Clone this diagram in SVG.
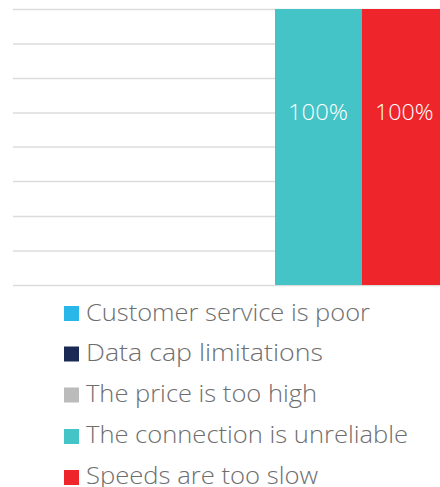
<svg xmlns="http://www.w3.org/2000/svg" width="440" height="487" viewBox="0 0 440 487">
<style>
.grid{stroke:#dcdcdc;stroke-width:1.5}
.val{font-family:"Open Sans","Liberation Sans",sans-serif;font-size:22px;font-weight:300;fill:#ffffff}
.leg{font-family:"Open Sans","Liberation Sans",sans-serif;font-size:23px;font-weight:300;fill:#6e6e6e}
</style>
<rect width="440" height="487" fill="#ffffff"/>
<g id="grid">
<line class="grid" x1="13" y1="9.5" x2="440" y2="9.5"/>
<line class="grid" x1="13" y1="44" x2="275" y2="44"/>
<line class="grid" x1="13" y1="78.5" x2="275" y2="78.5"/>
<line class="grid" x1="13" y1="113" x2="275" y2="113"/>
<line class="grid" x1="13" y1="147" x2="275" y2="147"/>
<line class="grid" x1="13" y1="181.5" x2="275" y2="181.5"/>
<line class="grid" x1="13" y1="216.5" x2="275" y2="216.5"/>
<line class="grid" x1="13" y1="251" x2="275" y2="251"/>
<line class="grid" x1="13" y1="285.5" x2="440" y2="285.5"/>
</g>
<g id="bar-connection">
<rect x="275" y="9" width="87" height="276" fill="#44c4c6"/>
<text class="val" x="288" y="119.5" textLength="60" lengthAdjust="spacingAndGlyphs">100%</text>
</g>
<g id="bar-speeds">
<rect x="362" y="9" width="78" height="276" fill="#ee262c"/>
<text class="val" x="375" y="119.5" textLength="58.5" lengthAdjust="spacingAndGlyphs">100%</text>
</g>
<g id="legend">
<rect x="64" y="306" width="15" height="15" fill="#29b6e8"/>
<text class="leg" x="86" y="321" textLength="284" lengthAdjust="spacingAndGlyphs">Customer service is poor</text>
<rect x="64" y="346.5" width="15" height="15" fill="#1a2a55"/>
<text class="leg" x="86" y="361" textLength="237" lengthAdjust="spacingAndGlyphs">Data cap limitations</text>
<rect x="64" y="387.5" width="15" height="15" fill="#bcbbbc"/>
<text class="leg" x="86" y="402" textLength="231" lengthAdjust="spacingAndGlyphs">The price is too high</text>
<rect x="64" y="429" width="15" height="15" fill="#44c4c6"/>
<text class="leg" x="86" y="443.3" textLength="322" lengthAdjust="spacingAndGlyphs">The connection is unreliable</text>
<rect x="64" y="470" width="15" height="15" fill="#ee262c"/>
<text class="leg" x="86" y="484" textLength="232" lengthAdjust="spacingAndGlyphs">Speeds are too slow</text>
</g>
</svg>
